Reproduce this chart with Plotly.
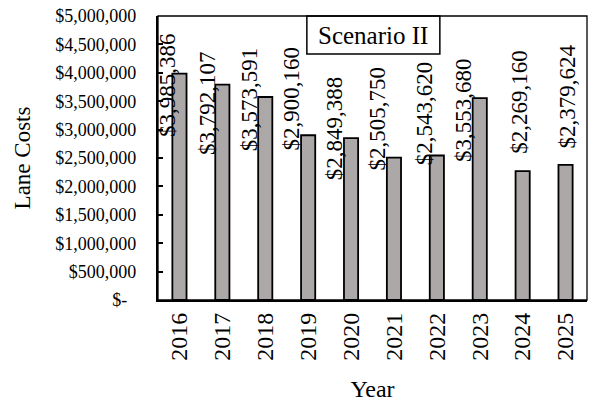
import plotly.graph_objects as go

# Annual lane costs, Scenario II
years = ["2016", "2017", "2018", "2019", "2020", "2021", "2022", "2023", "2024", "2025"]
lane_costs = [3985386, 3792107, 3573591, 2900160, 2849388, 2505750, 2543620, 3553680, 2269160, 2379624]

y_tick_vals = [0, 500000, 1000000, 1500000, 2000000, 2500000, 3000000, 3500000, 4000000, 4500000, 5000000]
y_tick_text = ["$-\u00a0\u00a0", "$500,000", "$1,000,000", "$1,500,000", "$2,000,000", "$2,500,000",
               "$3,000,000", "$3,500,000", "$4,000,000", "$4,500,000", "$5,000,000"]

# pixel nudges for the hand-placed value labels
label_dx = [-12, -15, -16, -17, -17, -16, -12, -17, -4, 2]
label_dy = [-11, -18, -2, 37, 10, 39, 42, -12, 69, 68]

SERIF = "Liberation Serif, Times New Roman, serif"

fig = go.Figure()
fig.add_trace(go.Bar(
    x=years,
    y=lane_costs,
    marker=dict(color="#aca8a8", line=dict(color="black", width=1.8)),
    width=0.33,
    showlegend=False,
))

# value labels, placed by category index on the category axis
for i, (v, dx, dy) in enumerate(zip(lane_costs, label_dx, label_dy)):
    fig.add_annotation(
        x=i, y=v, text=f"${v:,}", textangle=-90,
        showarrow=False, xanchor="center", yanchor="middle",
        xshift=dx, yshift=dy,
        font=dict(family=SERIF, size=23, color="black"),
    )

# "Scenario II" caption box
fig.add_shape(type="rect", xref="paper", yref="paper",
              x0=0.347, x1=0.657, y0=0.866, y1=1.0,
              line=dict(color="black", width=1.5), fillcolor="white", layer="above")
fig.add_annotation(xref="paper", yref="paper", x=0.502, y=0.933,
                   text="Scenario II", showarrow=False,
                   xanchor="center", yanchor="middle",
                   font=dict(family=SERIF, size=25, color="black"))

# thin frame around the plot area
fig.add_shape(type="rect", xref="paper", yref="paper", x0=0, x1=1, y0=0, y1=1,
              line=dict(color="black", width=1.3), layer="above")

fig.update_layout(
    width=598, height=404,
    margin=dict(l=158, r=11, t=16, b=104),
    paper_bgcolor="white", plot_bgcolor="white",
    font=dict(family=SERIF, color="black"),
    xaxis=dict(
        type="category",
        range=[-0.5, len(years) - 0.5],
        automargin=False,
        tickangle=-90,
        tickfont=dict(family=SERIF, size=24, color="black"),
        showline=True, linecolor="black", linewidth=2.2,
        ticks="", showgrid=False,
        ticklabelstandoff=1,
        title=dict(text="Year", font=dict(family=SERIF, size=24, color="black"), standoff=20),
    ),
    yaxis=dict(
        range=[0, 5000000],
        automargin=False,
        tickvals=y_tick_vals, ticktext=y_tick_text,
        tickfont=dict(family=SERIF, size=18, color="black"),
        showline=True, linecolor="black", linewidth=2.2,
        ticks="inside", ticklen=5, tickwidth=1.5, tickcolor="black",
        showgrid=False, zeroline=False,
        ticklabelstandoff=16,
        title=dict(text="Lane Costs", font=dict(family=SERIF, size=23, color="black"), standoff=18),
    ),
)

fig.write_html("out.html")
